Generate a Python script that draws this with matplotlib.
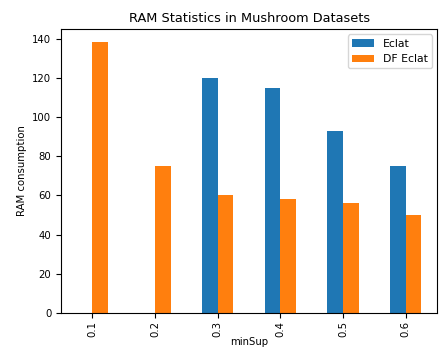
import numpy as np
import pandas as pd
import matplotlib
matplotlib.use("Agg")
import matplotlib.pyplot as plt

min_sup = ["0.1", "0.2", "0.3", "0.4", "0.5", "0.6"]
eclat = [np.nan, np.nan, 120, 115, 93, 75]
df_eclat = [138, 75, 60, 58, 56, 50]

plt.rcParams['font.size'] = 7.3

df = pd.DataFrame({"Eclat": eclat, "DF Eclat": df_eclat}, index=min_sup)
df.index.name = "minSup"

fig = plt.figure(figsize=(4.42, 3.53), dpi=100)
ax = fig.add_axes([0.138, 0.113, 0.851, 0.805])
df.plot(kind="bar", ax=ax)
ax.set_title("RAM Statistics in Mushroom Datasets", fontsize=9.3, pad=5)
ax.set_ylabel("RAM consumption")
ax.set_xlabel("minSup", labelpad=0)
ax.tick_params(axis="x", pad=2)
ax.legend(loc="upper right", fontsize=7.8)
fig.savefig("out.png", dpi=100)
